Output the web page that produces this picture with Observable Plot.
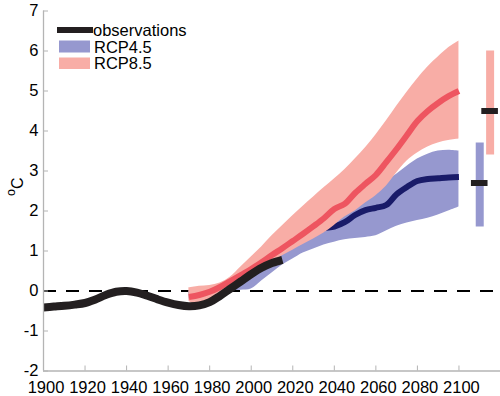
<!DOCTYPE html>
<html>
<head>
<meta charset="utf-8">
<script src="https://cdn.jsdelivr.net/npm/d3@7"></script>
<script src="https://cdn.jsdelivr.net/npm/@observablehq/plot@0.6"></script>
<style>
  html, body { margin: 0; padding: 0; background: #fff; }
  #chart { width: 500px; height: 396px; }
</style>
</head>
<body>
<div id="chart"></div>
<script>
// ---- Data ----
const obsYears = [1900,1905,1910,1915,1920,1925,1930,1935,1940,1945,1950,1955,1960,1965,1970,1975,1980,1985,1990,1995,2000,2005,2010,2015];
const obsValues = [-0.41,-0.39,-0.37,-0.34,-0.30,-0.21,-0.10,-0.02,0.0,-0.04,-0.12,-0.21,-0.29,-0.35,-0.38,-0.36,-0.28,-0.12,0.06,0.24,0.42,0.58,0.70,0.78];

const projYears = [1970,1975,1980,1985,1990,1995,2000,2005,2010,2015,2020,2025,2030,2035,2040,2045,2050,2055,2060,2065,2070,2075,2080,2085,2090,2095,2100];
const rcp85Mean = [-0.15,-0.10,-0.02,0.10,0.25,0.40,0.55,0.72,0.90,1.07,1.25,1.43,1.62,1.82,2.05,2.18,2.45,2.68,2.90,3.22,3.55,3.90,4.25,4.50,4.70,4.87,5.00];
const rcp85High = [0.08,0.12,0.14,0.20,0.35,0.60,0.85,1.10,1.38,1.63,1.88,2.12,2.35,2.58,2.80,3.03,3.30,3.58,3.90,4.25,4.62,4.97,5.30,5.60,5.85,6.08,6.25];
const rcp85Low  = [-0.25,-0.40,-0.25,-0.10,0.05,0.17,0.30,0.50,0.70,0.88,1.02,1.16,1.30,1.45,1.64,1.85,2.00,2.20,2.38,2.62,2.95,3.25,3.45,3.60,3.70,3.76,3.80];
const rcp45Mean = [-0.10,-0.08,-0.02,0.08,0.22,0.38,0.52,0.70,0.88,1.04,1.20,1.36,1.50,1.57,1.61,1.72,1.90,2.02,2.08,2.15,2.42,2.60,2.75,2.80,2.82,2.84,2.85];
const rcp45High = [0.00,0.05,0.10,0.18,0.30,0.47,0.65,0.88,1.10,1.30,1.50,1.68,1.85,1.98,2.10,2.22,2.35,2.48,2.60,2.75,2.92,3.12,3.30,3.42,3.50,3.52,3.50];
const rcp45Low  = [-0.20,-0.20,-0.15,-0.08,0.00,0.02,0.05,0.25,0.45,0.65,0.80,0.95,1.05,1.15,1.22,1.28,1.31,1.34,1.38,1.50,1.62,1.70,1.76,1.82,1.90,2.00,2.10];

const barScenarios = ["RCP4.5","RCP8.5"];
const barYears = [2110, 2115];
const barLow  = [1.6, 3.4];
const barHigh = [3.7, 6.0];
const barMid  = [2.7, 4.5];

const xTicks = [1900,1920,1940,1960,1980,2000,2020,2040,2060,2080,2100];
const yTicks = [-2,-1,0,1,2,3,4,5,6,7];

// ---- Styles ----
const C = {
  obs: "#231f20",
  r45band: "#9698cf",
  r45line: "#191b69",
  r85band: "#f8ada6",
  r85line: "#ee5560",
  axis: "#b4b4b4"
};
const FONT = "'Liberation Sans', Arial, Helvetica, sans-serif";

// ---- Tables ----
const obs = obsYears.map((y, i) => ({year: y, value: obsValues[i]}));
const proj = projYears.map((y, i) => ({
  year: y,
  m85: rcp85Mean[i], hi85: rcp85High[i], lo85: rcp85Low[i],
  m45: rcp45Mean[i], hi45: rcp45High[i], lo45: rcp45Low[i]
}));
const bars = barScenarios.map((s, i) => ({scenario: s, year: barYears[i], lo: barLow[i], hi: barHigh[i], mid: barMid[i]}));
const barColor = {"RCP4.5": C.r45band, "RCP8.5": C.r85band};

const chart = Plot.plot({
  width: 500,
  height: 396,
  marginLeft: 43,
  marginRight: 0,
  marginTop: 10.5,
  marginBottom: 25.5,
  style: {fontFamily: FONT, fontSize: "16.5px", color: "#000", background: "#fff"},
  x: {domain: [1900, 2120]},
  y: {domain: [-2, 7]},
  marks: [
    Plot.ruleY([0], {stroke: "#000", strokeWidth: 2, strokeDasharray: "13,10"}),
    Plot.areaY(proj, {x: "year", y1: "lo45", y2: "hi45", fill: C.r45band, curve: "catmull-rom"}),
    Plot.line(proj, {x: "year", y: "m45", stroke: C.r45line, strokeWidth: 6, curve: "catmull-rom", strokeLinecap: "butt"}),
    Plot.areaY(proj, {x: "year", y1: "lo85", y2: "hi85", fill: C.r85band, curve: "catmull-rom"}),
    Plot.line(proj, {x: "year", y: "m85", stroke: C.r85line, strokeWidth: 6, curve: "catmull-rom", strokeLinecap: "butt"}),
    Plot.line(obs, {x: "year", y: "value", stroke: C.obs, strokeWidth: 8, curve: "catmull-rom", strokeLinecap: "butt"}),
    Plot.ruleX(bars, {x: "year", y1: "lo", y2: "hi", stroke: d => barColor[d.scenario], strokeWidth: 8}),
    Plot.ruleY(bars, {y: "mid", x1: d => d.year - 4, x2: d => d.year + 4, stroke: C.obs, strokeWidth: 6}),
    // axes
    Plot.ruleX([1900], {stroke: C.axis, strokeWidth: 1.3}),
    Plot.ruleY([-2], {stroke: C.axis, strokeWidth: 1.3}),
    Plot.axisX({ticks: xTicks, tickSize: -5, tickFormat: () => "", stroke: C.axis, label: null}),
    Plot.axisY({ticks: yTicks, tickSize: -5, tickFormat: () => "", stroke: C.axis, label: null}),
    Plot.axisX({ticks: xTicks, tickSize: 0, tickPadding: 10, dx: 2.5, tickFormat: d => String(d), fill: "#000", fontSize: 16.5, label: null}),
    Plot.axisY({ticks: yTicks, tickSize: 0, tickPadding: 5, tickFormat: d => String(d), fill: "#000", fontSize: 16.5, label: null})
  ]
});

document.getElementById("chart").appendChild(chart);

// ---- y label and legend ----
const svg = d3.select(chart);
const ylab = svg.append("text")
  .attr("transform", "translate(23,196) rotate(-90)")
  .attr("text-anchor", "start")
  .attr("font-family", FONT)
  .attr("fill", "#000");
ylab.append("tspan").attr("font-size", 12.5).attr("dy", -8).text("o");
ylab.append("tspan").attr("font-size", 16).attr("dy", 8).text("C");

const lg = svg.append("g").attr("font-family", FONT).attr("font-size", 16.5)
  .attr("fill", "#000").attr("text-anchor", "start");
lg.append("line").attr("x1", 57).attr("x2", 93).attr("y1", 30).attr("y2", 30)
  .attr("stroke", C.obs).attr("stroke-width", 6);
lg.append("rect").attr("x", 59).attr("y", 40.5).attr("width", 31).attr("height", 12).attr("fill", C.r45band);
lg.append("rect").attr("x", 59).attr("y", 57.5).attr("width", 31).attr("height", 11.5).attr("fill", C.r85band);
lg.append("text").attr("x", 93).attr("y", 35.5).text("observations");
lg.append("text").attr("x", 94).attr("y", 52.7).text("RCP4.5");
lg.append("text").attr("x", 94).attr("y", 69).text("RCP8.5");
</script>
</body>
</html>
